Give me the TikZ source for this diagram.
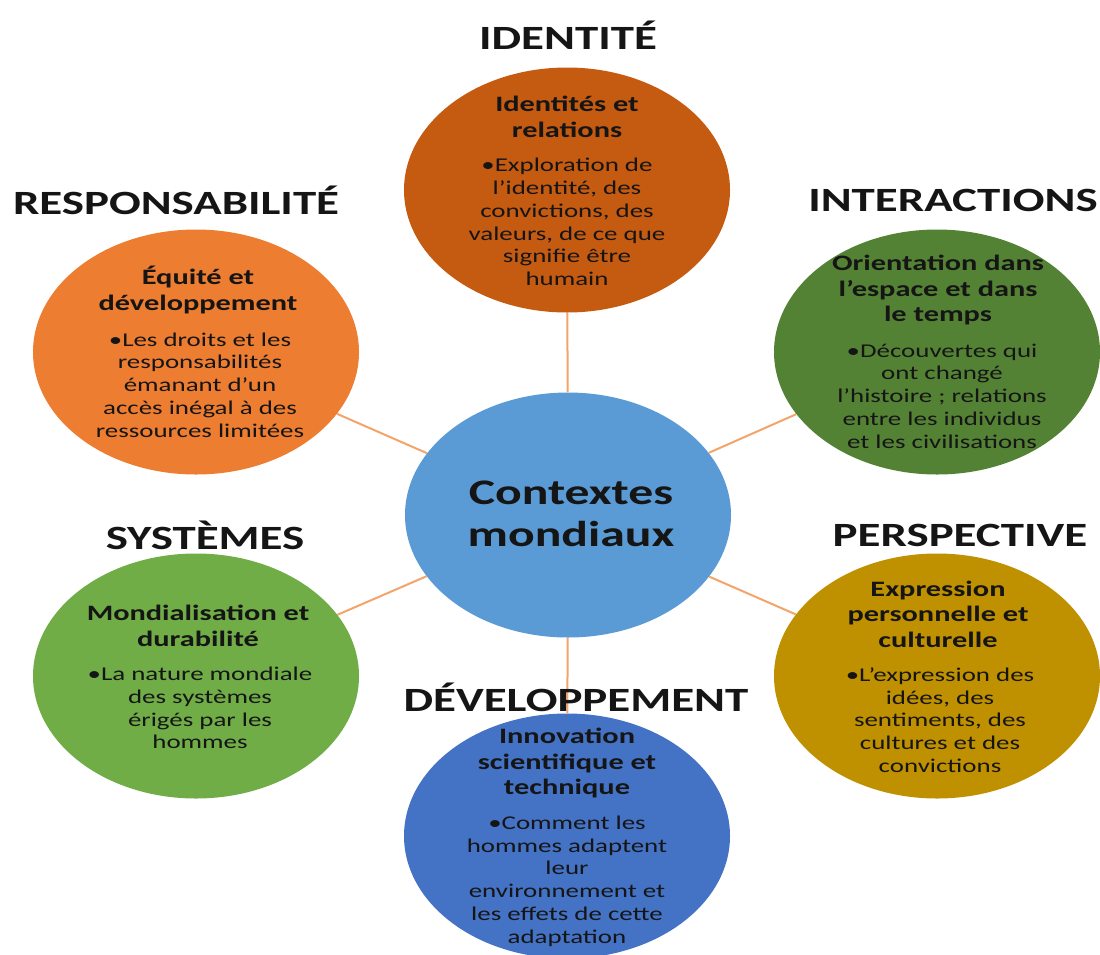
\documentclass[tikz,border=0pt]{standalone}
\usepackage{fontspec}
\setmainfont{Carlito}[FakeStretch=1.38]
\usetikzlibrary{shapes.geometric}
\definecolor{hubblue}{HTML}{5B9BD5}
\definecolor{rust}{HTML}{C55A11}
\definecolor{orng}{HTML}{ED7D31}
\definecolor{dkgreen}{HTML}{548235}
\definecolor{ltgreen}{HTML}{70AD47}
\definecolor{gold}{HTML}{BF9000}
\definecolor{midblue}{HTML}{4472C4}
\definecolor{linkc}{HTML}{F2A46A}
\definecolor{ink}{HTML}{151515}
\tikzset{
  bubble/.style={ellipse, inner sep=0pt, draw=none, minimum width=326pt, minimum height=245pt},
  link/.style={draw=linkc, line width=2pt},
  ttl/.style={font=\bfseries\fontsize{22}{25.5}\selectfont, align=center, text=ink, inner sep=0pt},
  bdy/.style={font=\fontsize{19.5}{22.8}\selectfont, align=center, text=ink, inner sep=0pt},
  lbl/.style={font=\bfseries\fontsize{34}{40}\selectfont, text=ink, inner sep=0pt},
  hubtxt/.style={font=\bfseries\fontsize{36}{42}\selectfont, align=center, text=ink, inner sep=0pt}
}
\begin{document}
\begin{tikzpicture}[x=1pt, y=-1pt]
\useasboundingbox (0,0) rectangle (1100,954);
% ellipses
\node[bubble, fill=hubblue] (hub) at (568,515) {};
\node[bubble, fill=rust] (e1) at (567,190) {};
\node[bubble, fill=orng] (e2) at (196,352) {};
\node[bubble, fill=dkgreen] (e3) at (937,352) {};
\node[bubble, fill=ltgreen] (e4) at (196,676) {};
\node[bubble, fill=gold] (e5) at (937,676) {};
\node[bubble, fill=midblue] (e6) at (567,836) {};
% connectors
\draw[link] (hub) -- (e1);
\draw[link] (hub) -- (e2);
\draw[link] (hub) -- (e3);
\draw[link] (hub) -- (e4);
\draw[link] (hub) -- (e5);
\draw[link] (hub) -- (e6);
% labels
\node[lbl] (l1) at (568,35) {IDENTITÉ};
\node[lbl] (l2) at (176,200) {RESPONSABILITÉ};
\node[lbl] (l3) at (953,200) {INTERACTIONS};
\node[lbl] (l4) at (205,535) {SYSTÈMES};
\node[lbl] (l5) at (960,535) {PERSPECTIVE};
\node[lbl] (l6) at (576,697) {DÉVELOPPEMENT};
% hub text
\node[hubtxt] (ht) at (571,514) {Contextes\\mondiaux};
% top
\node[ttl] (t1) at (567,117) {Identités et\\relations};
\node[bdy] (b1) at (567,222) {•Exploration de\\l’identité, des\\convictions, des\\valeurs, de ce que\\signifie être\\humain};
% orange
\node[ttl] (t2) at (198,290) {Équité et\\développement};
\node[bdy] (b2) at (200,385) {•Les droits et les\\responsabilités\\émanant d’un\\accès inégal à des\\ressources limitées};
% dark green
\node[ttl] (t3) at (938,290) {Orientation dans\\l’espace et dans\\le temps};
\node[bdy] (b3) at (942,396) {•Découvertes qui\\ont changé\\l’histoire ; relations\\entre les individus\\et les civilisations};
% light green
\node[ttl] (t4) at (198,626) {Mondialisation et\\durabilité};
\node[bdy] (b4) at (200,708) {•La nature mondiale\\des systèmes\\érigés par les\\hommes};
% gold
\node[ttl] (t5) at (938,614) {Expression\\personnelle et\\culturelle};
\node[bdy] (b5) at (940,720) {•L’expression des\\idées, des\\sentiments, des\\cultures et des\\convictions};
% bottom blue
\node[ttl] (t6) at (567,763) {Innovation\\scientifique et\\technique};
\node[bdy] (b6) at (567,881) {•Comment les\\hommes adaptent\\leur\\environnement et\\les effets de cette\\adaptation};
\end{tikzpicture}
\end{document}
